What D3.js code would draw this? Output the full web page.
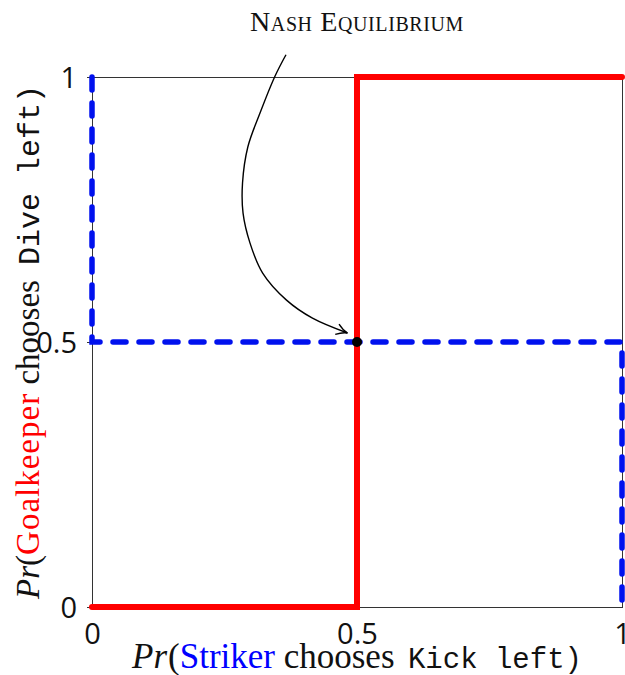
<!DOCTYPE html>
<html>
<head>
<meta charset="utf-8">
<script src="https://cdn.jsdelivr.net/npm/d3@7"></script>
<style>
  html, body { margin: 0; padding: 0; background: #fff; }
  svg { display: block; }
</style>
</head>
<body>
<svg id="chart" width="625" height="675"></svg>
<script>
// Best responses in the penalty-kick game
const xTicks = [0, 0.5, 1];
const yTicks = [0, 0.5, 1];
// Goalkeeper's best response to the striker's mix
const goalkeeperBR = [[0, 0], [0.5, 0], [0.5, 1], [1, 1]];
// Striker's best response to the goalkeeper's mix
const strikerBR = [[0, 1], [0, 0.5], [1, 0.5], [1, 0]];
const nashPoint = [0.5, 0.5];
// Annotation arrow path, in data units
const arrowPath = [
  [0.366, 1.042], [0.345, 1.001], [0.317, 0.932], [0.294, 0.868],
  [0.284, 0.800], [0.285, 0.743], [0.298, 0.687], [0.322, 0.630],
  [0.367, 0.579], [0.416, 0.545], [0.482, 0.517]
];

const svg = d3.select("#chart");
const margin = { left: 92, right: 2, top: 77, bottom: 68 };
const W = 625, H = 675;

const x = d3.scaleLinear().domain([0, 1]).range([margin.left, W - margin.right - 1]);
const y = d3.scaleLinear().domain([0, 1]).range([H - margin.bottom, margin.top]);

const tickFont = "'Open Sans', 'DejaVu Sans', sans-serif";
const serif = "'Liberation Serif', serif";
const mono = "'Liberation Mono', monospace";

// Frame
svg.append("rect")
  .attr("x", x(0) + 0.5).attr("y", y(1) + 0.5)
  .attr("width", x(1) - x(0)).attr("height", y(0) - y(1))
  .attr("fill", "none").attr("stroke", "#333").attr("stroke-width", 1);

// Axes
const xAxis = d3.axisBottom(x).tickValues(xTicks).tickSize(0).tickPadding(16)
  .tickFormat(d3.format("~g"));
const yAxis = d3.axisLeft(y).tickValues(yTicks).tickSize(5).tickPadding(10)
  .tickFormat(d3.format("~g"));

const gx = svg.append("g").attr("transform", `translate(0,${y(0)})`).call(xAxis);
const gy = svg.append("g").attr("transform", `translate(${x(0)},0)`).call(yAxis);
[gx, gy].forEach(g => {
  g.select(".domain").remove();
  g.selectAll(".tick line").attr("stroke", "#333");
  g.selectAll(".tick text")
    .attr("font-family", tickFont).attr("font-size", 29)
    .attr("fill", "#111");
});
gx.selectAll(".tick text").attr("dy", "0.71em");
gy.selectAll(".tick text").attr("dy", "0.36em");

const line = d3.line().x(d => x(d[0])).y(d => y(d[1]));

// Goalkeeper best response (solid red)
svg.append("path").datum(goalkeeperBR)
  .attr("d", line)
  .attr("fill", "none").attr("stroke", "#ff0000")
  .attr("stroke-width", 6).attr("stroke-linecap", "round")
  .attr("stroke-linejoin", "miter");

// Striker best response (dashed blue)
svg.append("path").datum(strikerBR)
  .attr("d", line)
  .attr("fill", "none").attr("stroke", "#0011ee")
  .attr("stroke-width", 5.5).attr("stroke-linecap", "round")
  .attr("stroke-dasharray", "13,13");

// Equilibrium point
svg.append("circle")
  .attr("cx", x(nashPoint[0])).attr("cy", y(nashPoint[1]))
  .attr("r", 5).attr("fill", "#000");

// Annotation arrow
const defs = svg.append("defs");
defs.append("marker")
  .attr("id", "head").attr("viewBox", "-12 -7 14 14")
  .attr("refX", 0).attr("refY", 0)
  .attr("markerWidth", 14).attr("markerHeight", 14)
  .attr("markerUnits", "userSpaceOnUse")
  .attr("orient", "auto")
  .append("path")
  .attr("d", "M-11,-5.5 Q-5,-1 0,0 Q-5,1 -11,5.5")
  .attr("fill", "none").attr("stroke", "#000").attr("stroke-width", 1.4);

svg.append("path").datum(arrowPath)
  .attr("d", d3.line().x(d => x(d[0])).y(d => y(d[1])).curve(d3.curveCatmullRom))
  .attr("fill", "none").attr("stroke", "#000").attr("stroke-width", 1.4)
  .attr("marker-end", "url(#head)");

// Annotation label
svg.append("text")
  .attr("x", x(0.5)).attr("y", 31)
  .attr("text-anchor", "middle")
  .style("font-family", serif).attr("font-size", 28)
  .style("font-variant", "small-caps")
  .attr("letter-spacing", 0.6)
  .attr("fill", "#111")
  .text("Nash Equilibrium");

// Axis title builder: serif words, italic Pr, coloured player name, monospace action
function axisTitle(sel, parts) {
  parts.forEach(p => {
    const t = sel.append("tspan")
      .style("font-family", p.mono ? mono : serif)
      .style("font-style", p.italic ? "italic" : "normal")
      .attr("font-size", p.size)
      .attr("fill", p.color || "#111")
      .text(p.text);
    if (p.dx) t.attr("dx", p.dx);
    if (p.ls) t.attr("letter-spacing", p.ls);
  });
}

// X axis title
const xt = svg.append("text")
  .attr("x", x(0.5)).attr("y", 668)
  .attr("text-anchor", "middle");
axisTitle(xt, [
  { text: "Pr", italic: true, size: 35 },
  { text: "(", size: 35, dx: 1 },
  { text: "Striker", size: 35, color: "#0000ff" },
  { text: " chooses", size: 35 },
  { text: " Kick left", size: 29, mono: true, dx: -4 },
  { text: ")", size: 29, mono: true }
]);

// Y axis title
const yt = svg.append("text")
  .attr("transform", `translate(39,${y(0.5)}) rotate(-90)`)
  .attr("text-anchor", "middle");
axisTitle(yt, [
  { text: "Pr", italic: true, size: 33 },
  { text: "(", size: 33 },
  { text: "Goalkeeper", size: 33, color: "#ff0000", ls: 1 },
  { text: " chooses", size: 33 },
  { text: " Dive left", size: 30, mono: true, dx: -3 },
  { text: ")", size: 30, mono: true }
]);
</script>
</body>
</html>
